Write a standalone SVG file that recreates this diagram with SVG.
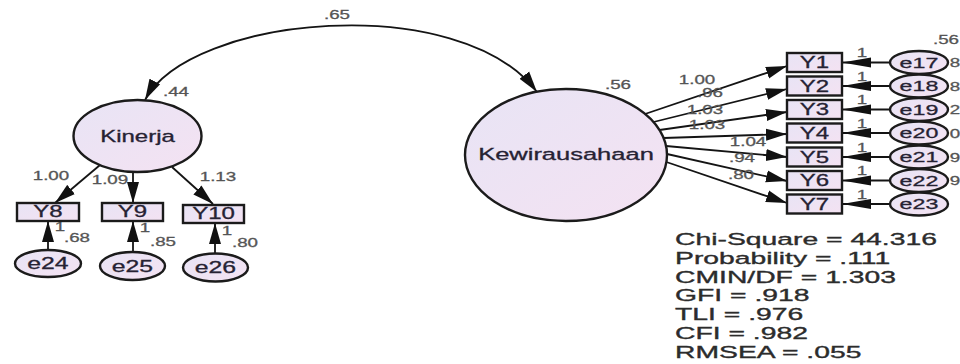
<svg xmlns="http://www.w3.org/2000/svg" width="960" height="364" viewBox="0 0 960 364">
<defs>
<linearGradient id="fillg" x1="0" y1="0" x2="1" y2="1">
<stop offset="0" stop-color="#e8e4f5"/>
<stop offset="1" stop-color="#f4e2f2"/>
</linearGradient>
<marker id="ah" markerUnits="userSpaceOnUse" markerWidth="22" markerHeight="13" refX="21" refY="6.5" orient="auto" viewBox="0 0 22 13">
<path d="M0,0.5 L21,6.5 L0,12.5 z" fill="#111"/>
</marker>
<marker id="ahs" markerUnits="userSpaceOnUse" markerWidth="22" markerHeight="13" refX="21" refY="6.5" orient="auto-start-reverse" viewBox="0 0 22 13">
<path d="M0,0.5 L21,6.5 L0,12.5 z" fill="#111"/>
</marker>
<marker id="ahl" markerUnits="userSpaceOnUse" markerWidth="30" markerHeight="11" refX="29" refY="5.5" orient="auto" viewBox="0 0 30 11">
<path d="M0,0.5 L29,5.5 L0,10.5 z" fill="#111"/>
</marker>
</defs>
<style>
.shape{fill:url(#fillg);stroke:#1b1b1b;stroke-width:2.4}
.conn{fill:none;stroke:#141414;stroke-width:1.8}
.lbl{font-family:"Liberation Sans",Arial,sans-serif;fill:#262233;stroke:#262233;stroke-width:0.3;text-anchor:middle}
.num{font-family:"Liberation Sans",Arial,sans-serif;font-size:12.5px;fill:#555;stroke:#555;stroke-width:0.3;text-anchor:middle}
.stat{font-family:"Liberation Sans",Arial,sans-serif;font-size:16.8px;fill:#2c2c2c;stroke:#2c2c2c;stroke-width:0.35}
</style>
<rect width="960" height="364" fill="#ffffff"/>

<g id="connectors">
<path class="conn" d="M145,100 C190,15 460,-10 537,92" marker-start="url(#ahs)" marker-end="url(#ah)"/>
<line class="conn" x1="100" y1="165" x2="55" y2="203" marker-end="url(#ah)"/>
<line class="conn" x1="133" y1="172" x2="133" y2="203" marker-end="url(#ah)"/>
<line class="conn" x1="172" y1="167" x2="213" y2="204" marker-end="url(#ah)"/>
<line class="conn" x1="48" y1="250" x2="48" y2="221" marker-end="url(#ah)"/>
<line class="conn" x1="133" y1="252" x2="133" y2="221" marker-end="url(#ah)"/>
<line class="conn" x1="215" y1="254" x2="215" y2="223" marker-end="url(#ah)"/>
<line class="conn" x1="645" y1="114" x2="787" y2="66" marker-end="url(#ah)"/>
<line class="conn" x1="653.5" y1="122" x2="787" y2="89" marker-end="url(#ah)"/>
<line class="conn" x1="659.5" y1="130" x2="787" y2="112" marker-end="url(#ah)"/>
<line class="conn" x1="663.6" y1="138" x2="787" y2="134" marker-end="url(#ah)"/>
<line class="conn" x1="666" y1="146" x2="787" y2="157" marker-end="url(#ah)"/>
<line class="conn" x1="667" y1="154" x2="787" y2="181" marker-end="url(#ah)"/>
<line class="conn" x1="666.4" y1="162" x2="787" y2="203" marker-end="url(#ah)"/>
<line class="conn" x1="890" y1="62.5" x2="842" y2="62.5" marker-end="url(#ahl)"/>
<line class="conn" x1="890" y1="86" x2="842" y2="86" marker-end="url(#ahl)"/>
<line class="conn" x1="890" y1="109.5" x2="842" y2="109.5" marker-end="url(#ahl)"/>
<line class="conn" x1="890" y1="133" x2="842" y2="133" marker-end="url(#ahl)"/>
<line class="conn" x1="890" y1="157" x2="842" y2="157" marker-end="url(#ahl)"/>
<line class="conn" x1="890" y1="180.5" x2="842" y2="180.5" marker-end="url(#ahl)"/>
<line class="conn" x1="890" y1="204" x2="842" y2="204" marker-end="url(#ahl)"/>
</g>

<g id="edge-labels">
<text class="num" transform="scale(1.5,1)" x="224.67" y="19.5">.65</text>
<text class="num" transform="scale(1.5,1)" x="34" y="180.5">1.00</text>
<text class="num" transform="scale(1.5,1)" x="73.33" y="184.5">1.09</text>
<text class="num" transform="scale(1.5,1)" x="145.33" y="181.5">1.13</text>
<text class="num" transform="scale(1.5,1)" x="40" y="231">1</text>
<text class="num" transform="scale(1.5,1)" x="96.67" y="232">1</text>
<text class="num" transform="scale(1.5,1)" x="151.33" y="235">1</text>
<text class="num" transform="scale(1.5,1)" x="464.67" y="84.5">1.00</text>
<text class="num" transform="scale(1.5,1)" x="473.33" y="97.5">.96</text>
<text class="num" transform="scale(1.5,1)" x="470" y="114.5">1.03</text>
<text class="num" transform="scale(1.5,1)" x="471.33" y="129.5">1.03</text>
<text class="num" transform="scale(1.5,1)" x="498.67" y="146.5">1.04</text>
<text class="num" transform="scale(1.5,1)" x="494.67" y="162.5">.94</text>
<text class="num" transform="scale(1.5,1)" x="494" y="179.5">.80</text>
<text class="num" transform="scale(1.5,1)" x="574.67" y="57.5">1</text>
<text class="num" transform="scale(1.5,1)" x="574.67" y="81">1</text>
<text class="num" transform="scale(1.5,1)" x="574.67" y="104.5">1</text>
<text class="num" transform="scale(1.5,1)" x="574.67" y="128">1</text>
<text class="num" transform="scale(1.5,1)" x="574.67" y="152">1</text>
<text class="num" transform="scale(1.5,1)" x="574.67" y="175.5">1</text>
<text class="num" transform="scale(1.5,1)" x="574.67" y="199">1</text>
</g>

<g id="fragments">
<text class="num" transform="scale(1.5,1)" x="636.67" y="67.5">8</text>
<text class="num" transform="scale(1.5,1)" x="636.67" y="91">8</text>
<text class="num" transform="scale(1.5,1)" x="636.67" y="114.5">2</text>
<text class="num" transform="scale(1.5,1)" x="636.67" y="138">0</text>
<text class="num" transform="scale(1.5,1)" x="636.67" y="162">9</text>
<text class="num" transform="scale(1.5,1)" x="636.67" y="185.5">9</text>
</g>

<g id="Kinerja">
<ellipse class="shape" cx="137.5" cy="136" rx="64" ry="36"/>
<text class="lbl" style="font-size:16px" transform="scale(1.5,1)" x="91.67" y="142">Kinerja</text>
<text class="num" transform="scale(1.5,1)" x="117.33" y="96.5">.44</text>
</g>
<g id="Kewirausahaan">
<ellipse class="shape" cx="566" cy="155" rx="101" ry="66"/>
<text class="lbl" style="font-size:17px" transform="scale(1.5,1)" x="377.33" y="160">Kewirausahaan</text>
<text class="num" transform="scale(1.5,1)" x="412" y="89">.56</text>
</g>

<g id="Y8"><rect class="shape" x="17" y="203" width="62" height="18"/><text class="lbl" style="font-size:16px" transform="scale(1.5,1)" x="32" y="217.5">Y8</text></g>
<g id="Y9"><rect class="shape" x="102" y="203" width="61" height="18"/><text class="lbl" style="font-size:16px" transform="scale(1.5,1)" x="88.33" y="217.5">Y9</text></g>
<g id="Y10"><rect class="shape" x="183" y="205" width="61" height="18"/><text class="lbl" style="font-size:16px" transform="scale(1.5,1)" x="142.33" y="219.5">Y10</text></g>

<g id="e24"><ellipse class="shape" cx="48" cy="263.5" rx="33" ry="13.5"/><text class="lbl" style="font-size:16.5px" transform="scale(1.5,1)" x="32" y="269.5">e24</text><text class="num" transform="scale(1.5,1)" x="51.33" y="242.5">.68</text></g>
<g id="e25"><ellipse class="shape" cx="132.5" cy="266" rx="32.5" ry="14"/><text class="lbl" style="font-size:16.5px" transform="scale(1.5,1)" x="88.33" y="272">e25</text><text class="num" transform="scale(1.5,1)" x="108.67" y="246.5">.85</text></g>
<g id="e26"><ellipse class="shape" cx="215.5" cy="267.5" rx="32.5" ry="14"/><text class="lbl" style="font-size:16.5px" transform="scale(1.5,1)" x="143.67" y="273.5">e26</text><text class="num" transform="scale(1.5,1)" x="163.33" y="247.5">.80</text></g>

<g id="Y1"><rect class="shape" x="787" y="53" width="55" height="19"/><text class="lbl" style="font-size:16px" transform="scale(1.5,1)" x="543" y="68.2">Y1</text></g>
<g id="Y2"><rect class="shape" x="787" y="76.5" width="55" height="19"/><text class="lbl" style="font-size:16px" transform="scale(1.5,1)" x="543" y="91.7">Y2</text></g>
<g id="Y3"><rect class="shape" x="787" y="100" width="55" height="19"/><text class="lbl" style="font-size:16px" transform="scale(1.5,1)" x="543" y="115.2">Y3</text></g>
<g id="Y4"><rect class="shape" x="787" y="123.5" width="55" height="19"/><text class="lbl" style="font-size:16px" transform="scale(1.5,1)" x="543" y="138.7">Y4</text></g>
<g id="Y5"><rect class="shape" x="787" y="147.5" width="55" height="19"/><text class="lbl" style="font-size:16px" transform="scale(1.5,1)" x="543" y="162.7">Y5</text></g>
<g id="Y6"><rect class="shape" x="787" y="171" width="55" height="19"/><text class="lbl" style="font-size:16px" transform="scale(1.5,1)" x="543" y="186.2">Y6</text></g>
<g id="Y7"><rect class="shape" x="787" y="194.5" width="55" height="19"/><text class="lbl" style="font-size:16px" transform="scale(1.5,1)" x="543" y="209.7">Y7</text></g>

<g id="e17"><ellipse class="shape" cx="919" cy="62.5" rx="29" ry="11.5"/><text class="lbl" style="font-size:15.5px" transform="scale(1.5,1)" x="612.67" y="68">e17</text><text class="num" transform="scale(1.5,1)" x="630.67" y="44.5">.56</text></g>
<g id="e18"><ellipse class="shape" cx="919" cy="86" rx="29" ry="11.5"/><text class="lbl" style="font-size:15.5px" transform="scale(1.5,1)" x="612.67" y="91.5">e18</text></g>
<g id="e19"><ellipse class="shape" cx="919" cy="109.5" rx="29" ry="11.5"/><text class="lbl" style="font-size:15.5px" transform="scale(1.5,1)" x="612.67" y="115">e19</text></g>
<g id="e20"><ellipse class="shape" cx="919" cy="133" rx="29" ry="11.5"/><text class="lbl" style="font-size:15.5px" transform="scale(1.5,1)" x="612.67" y="138.5">e20</text></g>
<g id="e21"><ellipse class="shape" cx="919" cy="157" rx="29" ry="11.5"/><text class="lbl" style="font-size:15.5px" transform="scale(1.5,1)" x="612.67" y="162.5">e21</text></g>
<g id="e22"><ellipse class="shape" cx="919" cy="180.5" rx="29" ry="11.5"/><text class="lbl" style="font-size:15.5px" transform="scale(1.5,1)" x="612.67" y="186">e22</text></g>
<g id="e23"><ellipse class="shape" cx="919" cy="204" rx="29" ry="11.5"/><text class="lbl" style="font-size:15.5px" transform="scale(1.5,1)" x="612.67" y="209.5">e23</text></g>

<g id="fit-stats" transform="scale(1.685,1)">
<text class="stat" x="400.6" y="245">Chi-Square = 44.316</text>
<text class="stat" x="400.6" y="263.8">Probability = .111</text>
<text class="stat" x="400.6" y="282.6">CMIN/DF = 1.303</text>
<text class="stat" x="400.6" y="301.4">GFI = .918</text>
<text class="stat" x="400.6" y="320.2">TLI = .976</text>
<text class="stat" x="400.6" y="339">CFI = .982</text>
<text class="stat" x="400.6" y="357.8">RMSEA = .055</text>
</g>
</svg>
